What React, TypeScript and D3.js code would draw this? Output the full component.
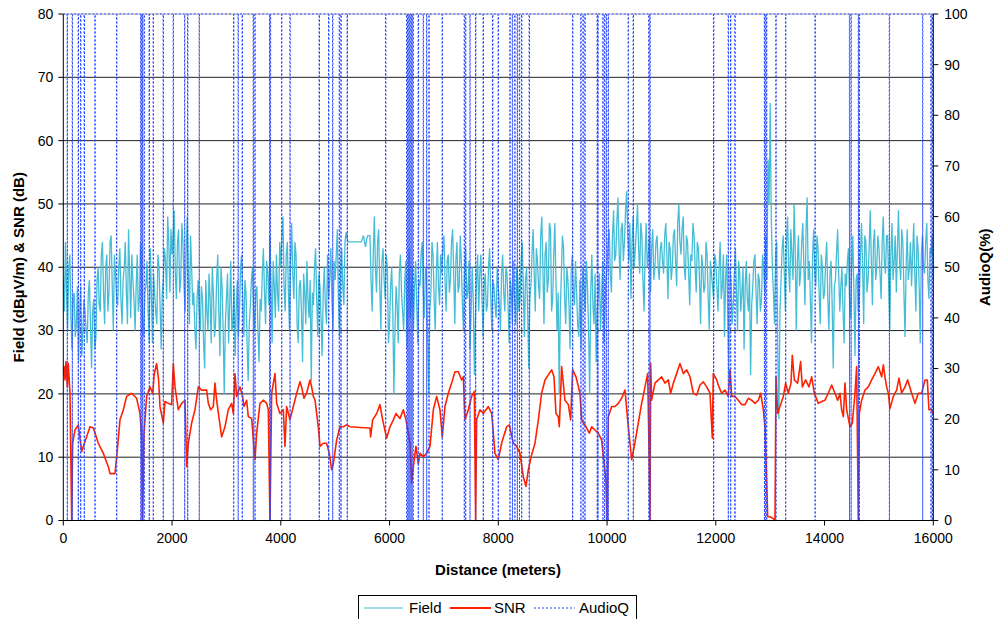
import React from 'react';
import * as d3 from 'd3';

// Field strength (dBµV/m). fieldEven: samples at 0, 40, 80 ... 16000 m; fieldOdd: samples at 20, 60, 100 ... 15980 m
const FIELD_STEP = 20;
const fieldEven: number[] = [
	38, 44, 30, 42, 27, 36, 31, 25, 37, 30, 33, 28, 38, 24, 35, 29, 40, 33, 44, 31, 42, 36, 45, 30, 39,
	34, 43, 31, 40, 36, 46, 32, 38, 30, 42, 35, 39, 29, 37, 33, 43, 28, 36, 31, 40, 27, 38, 41, 48, 36,
	42, 49, 35, 46, 38, 44, 33, 48, 31, 40, 36, 27, 38, 30, 35, 24, 33, 39, 28, 36, 31, 42, 26, 37, 20,
	35, 28, 41, 31, 26, 38, 33, 42, 29, 36, 22, 34, 40, 30, 37, 25, 33, 43, 31, 39, 45, 28, 37, 42, 33,
	40, 48, 33, 44, 30, 47, 35, 42, 28, 38, 25, 36, 41, 32, 22, 34, 43, 29, 37, 26, 40, 31, 35, 43, 30,
	38, 46, 29, 43, 34, 45.5, 44, 44, 44, 44, 44, 44, 44, 45, 43.2, 45, 45, 33, 48, 36, 46, 30, 43, 35, 40,
	31, 40, 20, 37, 28, 42, 33, 38, 27, 43, 35, 30, 41, 28, 37, 44, 32, 39, 20, 36, 42, 30, 44, 34, 39,
	45, 33, 42, 38, 46, 31, 44, 37, 41, 30, 43, 36, 27, 40, 23, 38, 33, 42, 29, 39, 34, 43, 30, 37, 32,
	37, 30, 42, 33, 39, 28, 36, 41, 31, 38, 35, 44, 29, 40, 24, 37, 46, 33, 41, 35, 48, 31, 44, 38, 46,
	35, 47, 30, 20, 39, 43, 31, 38, 27, 42, 34, 36, 29, 27, 40, 33, 37, 20, 42, 31, 25, 36, 30, 41, 33,
	40, 46, 36, 49, 42, 51, 38, 47, 44, 52, 41, 35, 48, 43, 50, 39, 45, 33, 47, 42, 36, 46, 40, 45, 38,
	44, 39, 47, 35, 43, 40, 46, 37, 50, 42, 48, 38, 44, 34, 41, 45, 36, 43, 31, 40, 37, 42, 30, 39, 35,
	41, 33, 44, 37, 29, 42, 23, 38, 34, 43, 30, 39, 36, 27, 41, 33, 23, 37, 42, 31, 38, 35, 40, 45, 57,
	66, 40, 31, 44, 16, 38, 45, 33, 48, 36, 42, 50, 30, 45, 39, 47, 34, 51, 41, 28, 46, 37, 43, 31, 40,
	36, 44, 30, 41, 24, 38, 46, 33, 40, 28, 37, 43, 32, 45, 26, 39, 35, 47, 31, 44, 38, 49, 34, 46, 40,
	43, 35, 48, 39, 45, 30, 47, 41, 36, 49, 38, 44, 29, 46, 40, 37, 47, 33, 43, 28, 45, 39, 47, 35, 42,
	38,
];
const fieldOdd: number[] = [
	33, 36, 40, 32, 35, 29, 37, 33, 26, 35, 30, 36, 31, 33, 27, 38, 34, 42, 36, 40, 33, 44, 37, 42, 35,
	40, 35, 38, 44, 31, 39, 42, 35, 37, 33, 44, 31, 36, 41, 28, 36, 39, 33, 42, 34, 36, 43, 35, 44, 46,
	45, 39, 44, 36, 47, 37, 43, 39, 45, 34, 30, 35, 33, 37, 28, 38, 30, 35, 40, 29, 38, 33, 40, 30, 31,
	39, 34, 30, 37, 33, 29, 40, 35, 38, 28, 31, 38, 33, 36, 30, 35, 39, 36, 41, 34, 37, 41, 32, 36, 44,
	45, 37, 42, 36, 41, 39, 44, 31, 37, 33, 39, 31, 35, 38, 36, 40, 35, 39, 32, 36, 34, 42, 38, 35, 41,
	42, 35, 39, 37, 44, 44.5, 44, 44, 44, 44, 44, 44, 44.5, 44, 44.5, 45, 38, 42, 40, 44, 37, 41, 38, 42, 28,
	37, 33, 30, 34, 39, 36, 30, 41, 35, 32, 40, 37, 34, 38, 42, 36, 40, 29, 33, 44, 35, 39, 37, 42, 43,
	38, 41, 36, 44, 39, 41, 36, 45, 34, 40, 35, 41, 33, 35, 32, 42, 39, 35, 37, 33, 40, 36, 38, 34, 40,
	34, 39, 36, 40, 34, 38, 31, 35, 40, 33, 41, 37, 38, 33, 35, 42, 39, 43, 37, 45, 40, 42, 36, 47, 33,
	42, 38, 36, 33, 45, 35, 40, 34, 39, 36, 41, 31, 38, 35, 36, 41, 30, 36, 34, 39, 33, 39, 35, 28, 38,
	44, 39, 45, 41, 47, 43, 46, 41, 49, 45, 47, 44, 40, 46, 43, 47, 38, 42, 40, 45, 43, 38, 44, 40, 43,
	41, 45, 42, 44, 38, 45, 41, 47, 44, 46, 40, 45, 39, 42, 47, 40, 44, 38, 42, 36, 44, 35, 41, 37, 42,
	37, 40, 35, 42, 38, 33, 40, 31, 39, 36, 41, 33, 40, 37, 35, 39, 34, 41, 36, 39, 33, 42, 36, 38, 50,
	48, 36, 42, 27, 33, 43, 39, 44, 40, 46, 38, 43, 41, 37, 44, 40, 46, 38, 35, 42, 39, 45, 36, 42, 35,
	41, 35, 39, 34, 37, 42, 39, 37, 33, 39, 41, 35, 40, 36, 38, 33, 42, 40, 45, 36, 43, 41, 44, 38, 45,
	39, 44, 41, 45, 37, 42, 38, 45, 43, 41, 46, 36, 40, 38, 44, 42, 39, 45, 37, 42, 40, 44, 38, 43, 45,
];

// SNR as [distance (m), dB]
const snrPoints: [number, number][] = [
	[0, 23], [13, 24.3], [31, 22.2], [49, 25.1], [74, 21.1], [92, 24.8], [123, 20.1], [154, 0], [172, 12.2], [215, 14.3],
	[276, 15.1], [337, 10.9], [368, 11.7], [491, 14.8], [552, 14.6], [644, 12.2], [736, 10.6], [828, 8.5], [859, 7.4], [950, 7.4],
	[993, 11.1], [1042, 15.9], [1104, 17.5], [1165, 19.6], [1257, 20.1], [1349, 19.3], [1410, 16.9], [1441, 13.2], [1459, 0], [1484, 13.8],
	[1533, 19.6], [1594, 21.1], [1643, 20.1], [1674, 23.2], [1717, 24.8], [1753, 22.2], [1778, 18.0], [1839, 15.4], [1870, 18.8], [1931, 18.5],
	[1993, 18.3], [2023, 24.8], [2054, 21.1], [2115, 17.5], [2177, 18.5], [2238, 19.0], [2269, 8.5], [2299, 12.2], [2360, 15.4], [2422, 17.5],
	[2483, 21.1], [2544, 20.6], [2636, 20.6], [2667, 18.5], [2710, 17.5], [2759, 18.0], [2789, 21.7], [2820, 19.0], [2869, 15.9], [2912, 13.2],
	[2973, 14.8], [3035, 17.5], [3096, 18.5], [3127, 16.9], [3157, 23.2], [3188, 19.6], [3249, 21.1], [3298, 19.6], [3323, 18.0], [3372, 19.0],
	[3402, 16.4], [3464, 16.1], [3525, 9.6], [3556, 13.8], [3617, 18.5], [3678, 19.0], [3740, 18.5], [3770, 17.5], [3801, 0], [3832, 20.1],
	[3893, 23.2], [3924, 18.5], [3985, 16.9], [4046, 17.5], [4077, 11.7], [4107, 18.0], [4169, 15.9], [4230, 18.0], [4292, 20.1], [4353, 21.9],
	[4383, 21.1], [4426, 19.3], [4475, 20.1], [4537, 22.2], [4567, 21.1], [4598, 19.6], [4629, 19.0], [4690, 14.8], [4721, 11.7], [4782, 12.2],
	[4843, 12.2], [4892, 10.6], [4935, 8.0], [4966, 9.0], [5027, 12.7], [5088, 14.8], [5150, 14.8], [5211, 15.1], [5272, 14.8], [5456, 14.7],
	[5640, 14.6], [5652, 13.2], [5689, 15.9], [5763, 16.9], [5824, 18.3], [5873, 15.9], [5947, 13.0], [6008, 14.8], [6069, 15.9], [6118, 16.9],
	[6192, 16.1], [6253, 17.5], [6302, 15.9], [6345, 13.8], [6376, 12.2], [6406, 5.9], [6437, 8.5], [6486, 11.7], [6529, 9.0], [6560, 10.6],
	[6621, 10.1], [6682, 10.6], [6744, 11.7], [6805, 17.5], [6866, 19.6], [6927, 17.5], [6970, 13.2], [7019, 18.0], [7081, 20.1], [7142, 21.7],
	[7203, 23.5], [7265, 23.5], [7326, 22.2], [7357, 22.7], [7387, 15.9], [7448, 17.5], [7510, 19.6], [7559, 20.4], [7583, 0], [7602, 15.9],
	[7663, 17.5], [7724, 16.9], [7816, 18.0], [7878, 16.9], [7939, 10.6], [8000, 9.6], [8061, 12.2], [8153, 14.8], [8203, 15.1], [8276, 12.2],
	[8338, 11.7], [8399, 10.6], [8460, 6.9], [8509, 5.4], [8552, 8.0], [8613, 10.4], [8675, 12.2], [8736, 15.9], [8797, 20.1], [8859, 22.2],
	[8920, 23.0], [8981, 23.8], [9024, 22.7], [9061, 16.9], [9104, 16.4], [9122, 14.8], [9165, 24.3], [9226, 19.0], [9288, 18.3], [9331, 15.9],
	[9367, 23.8], [9429, 22.7], [9502, 20.1], [9533, 15.9], [9613, 14.8], [9674, 13.8], [9717, 14.8], [9778, 14.3], [9839, 13.8], [9901, 12.7],
	[9931, 10.1], [9980, 6.4], [10005, 0], [10023, 16.4], [10085, 18.0], [10146, 18.0], [10207, 18.5], [10268, 19.3], [10330, 20.6], [10379, 15.9],
	[10452, 9.6], [10501, 11.7], [10575, 15.4], [10636, 18.5], [10698, 21.1], [10747, 23.2], [10771, 11.7], [10790, 0], [10802, 24.8], [10820, 19.0],
	[10881, 21.7], [10943, 22.2], [11004, 22.7], [11065, 21.7], [11127, 22.2], [11170, 20.1], [11219, 21.7], [11280, 23.2], [11341, 24.8], [11403, 23.2],
	[11464, 23.8], [11525, 22.7], [11586, 20.1], [11648, 19.8], [11709, 21.4], [11770, 21.9], [11832, 21.1], [11893, 20.1], [11936, 13.0], [11954, 23.2],
	[12016, 22.2], [12059, 21.1], [12107, 20.1], [12169, 20.6], [12230, 19.6], [12261, 23.8], [12292, 19.6], [12353, 19.6], [12414, 19.0], [12475, 18.3],
	[12537, 18.3], [12598, 19.3], [12659, 19.0], [12721, 18.5], [12782, 19.0], [12825, 20.1], [12874, 17.5], [12905, 14.8], [12935, 6.4], [12954, 0.6],
	[12997, 0.6], [13058, 0.3], [13089, 0], [13107, 22.7], [13138, 16.9], [13180, 18.0], [13242, 19.6], [13285, 21.7], [13334, 20.1], [13383, 21.7],
	[13407, 26.1], [13444, 22.2], [13505, 21.7], [13560, 25.1], [13591, 21.1], [13652, 22.2], [13714, 21.1], [13763, 22.7], [13812, 20.1], [13885, 18.5],
	[13947, 18.8], [14008, 19.0], [14069, 20.1], [14131, 21.4], [14192, 20.1], [14241, 19.0], [14284, 20.1], [14314, 17.5], [14345, 16.4], [14376, 21.7],
	[14406, 17.5], [14468, 14.8], [14511, 15.4], [14560, 20.1], [14590, 24.3], [14621, 0], [14639, 16.9], [14682, 19.0], [14744, 20.6], [14805, 21.1],
	[14866, 22.2], [14927, 23.2], [14989, 24.3], [15050, 22.7], [15081, 24.6], [15111, 22.7], [15142, 21.1], [15173, 20.1], [15203, 17.7], [15265, 19.6],
	[15326, 20.6], [15369, 22.5], [15418, 20.1], [15479, 21.1], [15528, 22.2], [15602, 20.1], [15663, 18.5], [15724, 20.1], [15786, 20.1], [15847, 22.2],
	[15890, 22.2], [15920, 17.5], [15970, 17.5], [16000, 16.9],
];

// distances where AudioQ fell from 100 % to 0 %
const audioDrops: number[] = [
	74, 166, 276, 320, 386, 583, 982, 1425, 1445, 1460, 1490, 1582, 1655, 1839, 2023, 2233, 2288,
	2501, 3134, 3216, 3292, 3494, 3525, 3796, 3810, 4017, 4170, 4708, 4881, 4955, 5076, 5107, 5223, 5929,
	6315, 6335, 6355, 6375, 6395, 6415, 6435, 6529, 6621, 6683, 6726, 6970, 7375, 7400, 7480,
	7584, 7724, 7897, 8000, 8215, 8260, 8305, 8350, 8390, 8430, 8570, 9368, 9520, 9560, 9594, 9820, 9833, 9925,
	9955, 9987, 10023, 10391, 10483, 10770, 10790, 11961, 12230, 12274, 12353, 12895, 12915, 12936, 13107, 13285, 13827, 14460,
	14489, 14623, 14640, 15193, 15805, 15958, 15982,
];
const AUDIO_STEP = 4;

const xTicks = [0, 2000, 4000, 6000, 8000, 10000, 12000, 14000, 16000];
const leftTicks = [0, 10, 20, 30, 40, 50, 60, 70, 80];
const rightTicks = [0, 10, 20, 30, 40, 50, 60, 70, 80, 90, 100];

const FONT = "'Liberation Sans', Arial, sans-serif";

export default function App() {
	const W = 995;
	const H = 619;
	const left = 63.3, right = 933.3, top = 14, bottom = 520.5;

	const x = d3.scaleLinear().domain([0, 16000]).range([left, right]);
	const y = d3.scaleLinear().domain([0, 80]).range([bottom, top]);
	const y2 = d3.scaleLinear().domain([0, 100]).range([bottom, top]);

	const field = fieldEven.flatMap((v, i) => (i < fieldOdd.length ? [v, fieldOdd[i]] : [v]));
	const fieldLine = d3.line<number>().x((_, i) => x(i * FIELD_STEP)).y((d) => y(d));
	const snrLine = d3.line<[number, number]>().x((d) => x(d[0])).y((d) => y(d[1]));

	const audioPts: [number, number][] = [[0, 100]];
	audioDrops.forEach((d) => {
		audioPts.push([d - AUDIO_STEP, 100], [d, 0], [d + AUDIO_STEP, 100]);
	});
	audioPts.push([16000, 100]);
	const audioLine = d3.line<[number, number]>().x((d) => x(d[0])).y((d) => y2(d[1]));

	return (
		<div style={{ position: 'absolute', left: 0, top: 0 }}>
			<svg width={W} height={H} style={{ display: 'block', background: '#fff' }} fontFamily={FONT}>
				{/* gridlines */}
				{leftTicks.filter((t) => t > 0 && t < 80).map((t) => (
					<line key={t} x1={left} x2={right} y1={y(t)} y2={y(t)} stroke="#222" strokeWidth={1} />
				))}
				<line x1={left} x2={right} y1={top} y2={top} stroke="#b0b0b0" strokeWidth={1} />

				<defs>
					<clipPath id="plot">
						<rect x={left} y={top - 1} width={right - left} height={bottom - top + 2} />
					</clipPath>
				</defs>

				<g clipPath="url(#plot)">
					<path d={fieldLine(field) ?? ''} fill="none" stroke="#45bdd5" strokeWidth={1.3} />
					<path d={snrLine(snrPoints) ?? ''} fill="none" stroke="#ff2200" strokeWidth={1.6} strokeLinejoin="round" />
					<path d={audioLine(audioPts) ?? ''} fill="none" stroke="#2a48ff" strokeWidth={1} strokeDasharray="2 2" />
				</g>

				{/* axes */}
				<line x1={left} x2={left} y1={top} y2={bottom} stroke="#000" />
				<line x1={right} x2={right} y1={top} y2={bottom} stroke="#000" />
				<line x1={left} x2={right} y1={bottom} y2={bottom} stroke="#000" />

				{leftTicks.map((t) => (
					<g key={t}>
						<line x1={left - 5} x2={left} y1={y(t)} y2={y(t)} stroke="#000" />
						<text x={left - 10} y={y(t)} dy="0.35em" textAnchor="end" fontSize={14}>{t}</text>
					</g>
				))}
				{rightTicks.map((t) => (
					<g key={t}>
						<line x1={right} x2={right + 5} y1={y2(t)} y2={y2(t)} stroke="#000" />
						<text x={right + 11} y={y2(t)} dy="0.35em" textAnchor="start" fontSize={14}>{t}</text>
					</g>
				))}
				{xTicks.map((t) => (
					<g key={t}>
						<line x1={x(t)} x2={x(t)} y1={bottom} y2={bottom + 5} stroke="#000" />
						<text x={x(t)} y={bottom + 22} textAnchor="middle" fontSize={14}>{t}</text>
					</g>
				))}

				<text x={498} y={575} textAnchor="middle" fontSize={15} fontWeight="bold">Distance (meters)</text>
				<text transform={`translate(24,${(top + bottom) / 2}) rotate(-90)`} textAnchor="middle" fontSize={15} fontWeight="bold">
					Field (dBµV/m) &amp; SNR (dB)
				</text>
				<text transform={`translate(990,${(top + bottom) / 2}) rotate(-90)`} textAnchor="middle" fontSize={15} fontWeight="bold">
					AudioQ(%)
				</text>

				{/* legend */}
				<rect x={358.5} y={595.5} width={278} height={30} fill="#fff" stroke="#000" />
				<line x1={364} x2={403} y1={608} y2={608} stroke="#45bdd5" strokeWidth={1} />
				<text x={409} y={613} fontSize={15}>Field</text>
				<line x1={450} x2={491} y1={608} y2={608} stroke="#ff2200" strokeWidth={2} />
				<text x={494} y={613} fontSize={15}>SNR</text>
				<line x1={534} x2={575} y1={608} y2={608} stroke="#2a48ff" strokeWidth={1} strokeDasharray="2 2" />
				<text x={579} y={613} fontSize={15}>AudioQ</text>
			</svg>
		</div>
	);
}
